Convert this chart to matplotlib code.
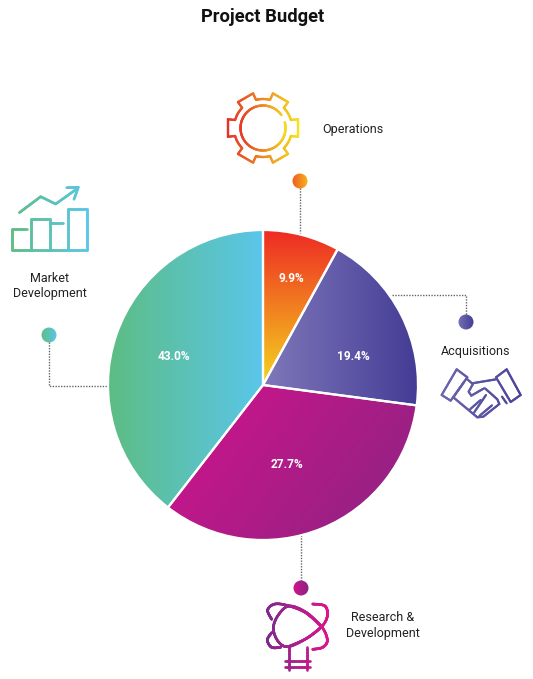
import numpy as np
import matplotlib
matplotlib.use("Agg")
import matplotlib.pyplot as plt
from matplotlib.collections import LineCollection
from matplotlib.colors import LinearSegmentedColormap
from matplotlib.patches import Circle

plt.rcParams['font.family'] = ['Roboto', 'DejaVu Sans']

# Chart data, clockwise from the top
categories = ["Operations", "Acquisitions", "Research &\nDevelopment", "Market\nDevelopment"]
pct_labels = [9.9, 19.4, 27.7, 43.0]
# the drawn slices do not follow the printed numbers, these are read off the picture
slice_sizes = [8.0, 19.1, 33.4, 39.5]

W, H = 533, 679
CX, CY, R = 263, 385, 155

# gradient colours per slice: start, end, direction in degrees
grad_colors = [("#ee2a24", "#f5d51e"), ("#7f78ba", "#443c95"),
               ("#d3138c", "#8a2482"), ("#5dbd83", "#5ac6ea")]
grad_dirs = [270, 0, 335, 0]
pct_pos = [(291.5, 279), (353, 357), (287, 464), (174, 357)]
label_pos = [(352.5, 129), (476, 352), (382.5, 625.5), (49.5, 286)]
dot_pos = [(300, 181), (466, 322), (301, 588), (49, 335)]
leaders = [[(300, 188), (300, 236)],
           [(392, 295), (466, 295), (466, 315)],
           [(301, 535), (301, 581)],
           [(49, 342), (49, 386), (108, 386)]]


def Y(y):
    return H - y


def cmap_of(pair):
    return LinearSegmentedColormap.from_list("g", list(pair))


def fill_gradient(ax, patch, box, pair, angle=0):
    # box in screen-like pixels: x0, y0, x1, y1
    x0, y0, x1, y1 = box
    a = np.radians(angle)
    xx, yy = np.meshgrid(np.linspace(-1, 1, 200), np.linspace(-1, 1, 200))
    g = xx * np.cos(a) + yy * np.sin(a)
    lim = abs(np.cos(a)) + abs(np.sin(a))
    im = ax.imshow(g, extent=(x0, x1, Y(y1), Y(y0)), origin='lower', cmap=cmap_of(pair),
                   aspect='auto', zorder=1, vmin=-lim, vmax=lim)
    im.set_clip_path(patch)


def smooth(pts, n=14):
    p = np.array(pts, float)
    p = np.vstack([p[0], p, p[-1]])
    out = []
    for i in range(1, len(p) - 2):
        for t in np.linspace(0, 1, n, endpoint=False):
            a, b, c, d = p[i - 1], p[i], p[i + 1], p[i + 2]
            out.append(0.5 * (2 * b + (c - a) * t + (2 * a - 5 * b + 4 * c - d) * t ** 2
                              + (3 * b - a - 3 * c + d) * t ** 3))
    out.append(p[-2])
    return np.array(out)


def stroke(ax, pts, pair, xr, lw=1.7, scale=None, off=(0, 0)):
    # gradient polyline, colour follows x
    p = np.array(pts, float)
    if scale:
        p = p / scale + np.array(off)
    dense = []
    for a, b in zip(p[:-1], p[1:]):
        n = max(2, int(np.hypot(*(b - a)) / 1.5))
        dense.append(np.linspace(a, b, n, endpoint=False))
    dense.append(p[-1:])
    d = np.vstack(dense)
    t = (d[:, 0] - xr[0]) / (xr[1] - xr[0])
    segs = [[(d[i, 0], Y(d[i, 1])), (d[i + 1, 0], Y(d[i + 1, 1]))] for i in range(len(d) - 1)]
    cols = cmap_of(pair)(np.clip(t[:-1], 0, 1))
    lc = LineCollection(segs, colors=cols, linewidths=lw, capstyle='round', zorder=4)
    ax.add_collection(lc)


fig = plt.figure(figsize=(W / 100, H / 100), dpi=100)
ax = fig.add_axes([0, 0, 1, 1])

wedges, _ = ax.pie(slice_sizes, startangle=90, counterclock=False, center=(CX, Y(CY)), radius=R,
                   wedgeprops=dict(edgecolor='white', linewidth=1.6, zorder=3))
boxes = [(263, 230, 340, 385), (263, 250, 419, 407), (167, 385, 417, 540), (108, 230, 263, 507)]
for w, box, pair, ang in zip(wedges, boxes, grad_colors, grad_dirs):
    w.set_facecolor('none')
    fill_gradient(ax, w, box, pair, ang)

for val, (x, y) in zip(pct_labels, pct_pos):
    ax.text(x, Y(y), f"{val:.1f}%", color='white', fontsize=8.6, fontweight='bold',
            ha='center', va='center', zorder=5)

for cat, (x, y) in zip(categories, label_pos):
    ax.text(x, Y(y), cat, color='#222222', fontsize=9.0, ha='center', va='center',
            linespacing=1.25, multialignment='center', zorder=5)

ax.text(263, Y(17), "Project Budget", fontsize=13.2, fontweight='bold', color='#111111',
        ha='center', va='center')

for line in leaders:
    xs = [q[0] for q in line]
    ys = [Y(q[1]) for q in line]
    ax.plot(xs, ys, color='#666666', lw=1, ls=(0, (1, 1)), zorder=2)

dot_cols = [("#ee5a22", "#f5b41e"), ("#7570b5", "#443c95"), ("#d3138c", "#8a2482"), ("#5dbd83", "#5ac6ea")]
for (x, y), pair in zip(dot_pos, dot_cols):
    c = Circle((x, Y(y)), 7.5, facecolor='none', edgecolor='none')
    ax.add_patch(c)
    fill_gradient(ax, c, (x - 8, y - 8, x + 8, y + 8), pair)

# gear icon, six wide teeth
gear = ("#e5322a", "#f4e31f")
gx, gy = 263, 128
rad, ang = [], []
for k in range(6):
    base = k * 60
    for da, rr in [(-16, 29), (-14, 36), (14, 36), (16, 29)]:
        ang.append(base + da)
        rad.append(rr)
    for da in range(20, 44, 4):
        ang.append(base + da)
        rad.append(29)
ang.append(ang[0])
rad.append(rad[0])
ang = np.radians(ang)
gear_pts = np.c_[gx + np.array(rad) * np.cos(ang), gy + np.array(rad) * np.sin(ang)]
stroke(ax, gear_pts, gear, (227, 299))
th = np.radians(np.linspace(-15, 325, 90))
stroke(ax, np.c_[gx + 22.5 * np.cos(th), gy + 22.5 * np.sin(th)], gear, (238, 288))

# market chart icon, traced in zoomed crop coordinates
mk = ("#5dbd83", "#5ac6ea")
mk_kw = dict(pair=mk, xr=(12, 88), lw=1.9, scale=3, off=(0, 170))
for pl in [[(80, 178), (37, 178), (37, 240), (260, 240), (260, 117), (203, 117), (203, 240)],
           [(93, 240), (93, 146), (150, 146), (150, 240)],
           [(150, 160), (190, 160)],
           [(58, 128), (122, 80), (167, 102), (233, 55)],
           [(200, 53), (235, 52), (222, 88)]]:
    stroke(ax, pl, **mk_kw)

# handshake icon
hs = ("#6c66ae", "#4b4399")
hs_kw = dict(pair=hs, xr=(440, 522), lw=1.6, scale=3, off=(390, 280))
for pl in [[(232, 292), (200, 268), (155, 345), (182, 362), (232, 292)],
           [(318, 292), (350, 268), (392, 345), (362, 366), (318, 292)],
           [(222, 306), (190, 352), (262, 412), (280, 410), (328, 372), (322, 358), (285, 325)],
           [(232, 298), (246, 310), (318, 298)],
           [(250, 310), (236, 335), (244, 347), (282, 325)],
           [(240, 388), (272, 360)],
           [(252, 398), (288, 345)],
           [(268, 408), (306, 376)],
           [(336, 350), (350, 370)]]:
    stroke(ax, pl, **hs_kw)

# bulb icon
bb = ("#7f2a8d", "#e0148c")
bb_kw = dict(pair=bb, xr=(267, 329), lw=1.9, scale=3, off=(250, 530))
for pl in [smooth([(215, 290), (170, 248), (118, 228), (85, 255), (70, 295), (85, 335), (115, 350), (170, 325), (215, 290)]),
           smooth([(65, 268), (53, 240), (75, 222), (118, 228), (170, 250), (215, 290)]),
           smooth([(188, 222), (225, 228), (232, 258), (215, 290), (170, 325), (115, 350)]),
           smooth([(65, 308), (52, 330), (65, 352), (92, 352)]),
           smooth([(170, 250), (215, 290), (232, 330), (218, 352), (188, 358)]),
           [(118, 350), (118, 420)], [(172, 352), (172, 420)],
           [(105, 393), (180, 393)], [(105, 410), (180, 410)]]:
    stroke(ax, pl, **bb_kw)

ax.set_xlim(0, W)
ax.set_ylim(0, H)
ax.set_aspect('auto')
ax.axis('off')
fig.savefig("out.png", dpi=100, facecolor='white')
